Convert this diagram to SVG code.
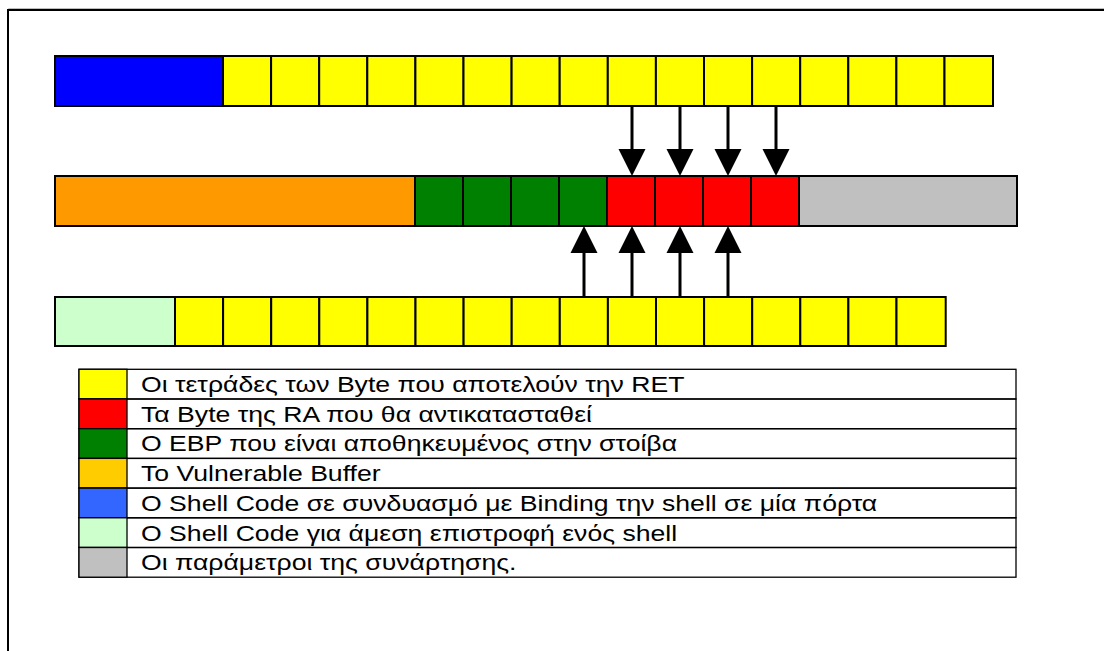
<svg xmlns="http://www.w3.org/2000/svg" width="1104" height="651" viewBox="0 0 1104 651">
  <style>
    .cell { stroke: #000; stroke-width: 2; }
    .yel { fill: #FFFF00; }
    .blu { fill: #0000FF; }
    .org { fill: #FF9900; }
    .grn { fill: #008000; }
    .red { fill: #FF0000; }
    .gry { fill: #C0C0C0; }
    .lgr { fill: #CCFFCC; }
    .lg-row { fill: none; stroke: #000; stroke-width: 1.3; }
    .lg-sw { stroke: #000; stroke-width: 1.3; }
    .lg-txt { font-family: "Liberation Sans", Arial, sans-serif; font-size: 22px; fill: #000; }
    .arrow { stroke: #000; stroke-width: 3; fill: none; marker-end: url(#head); }
  </style>
  <defs>
    <marker id="head" markerUnits="userSpaceOnUse" markerWidth="28" markerHeight="28" viewBox="0 -14 28 28" refX="0" refY="0" orient="auto">
      <path d="M0,-13.5 L27,0 L0,13.5 Z" fill="#000"/>
    </marker>
  </defs>

  <rect width="1104" height="651" fill="#fff"/>

  <!-- page frame, runs off the right and bottom edges -->
  <g id="frame">
    <path d="M8.5,1110 V8.5 H1110" fill="none" stroke="#bdbdbd" stroke-width="1"/>
    <path d="M8,1110 V10 H1110" fill="none" stroke="#000" stroke-width="2"/>
  </g>

  <!-- row 1: shell code with port binding + RET words -->
  <g id="row-top">
    <rect class="cell blu" x="55" y="56" width="168" height="50"/>
    <rect class="cell yel" x="223" y="56" width="48.1" height="50"/>
    <rect class="cell yel" x="271.1" y="56" width="48.1" height="50"/>
    <rect class="cell yel" x="319.2" y="56" width="48.1" height="50"/>
    <rect class="cell yel" x="367.3" y="56" width="48.1" height="50"/>
    <rect class="cell yel" x="415.4" y="56" width="48.1" height="50"/>
    <rect class="cell yel" x="463.5" y="56" width="48.1" height="50"/>
    <rect class="cell yel" x="511.6" y="56" width="48.1" height="50"/>
    <rect class="cell yel" x="559.7" y="56" width="48.1" height="50"/>
    <rect class="cell yel" x="607.8" y="56" width="48.1" height="50"/>
    <rect class="cell yel" x="655.9" y="56" width="48.1" height="50"/>
    <rect class="cell yel" x="704" y="56" width="48.1" height="50"/>
    <rect class="cell yel" x="752.1" y="56" width="48.1" height="50"/>
    <rect class="cell yel" x="800.2" y="56" width="48.1" height="50"/>
    <rect class="cell yel" x="848.3" y="56" width="48.1" height="50"/>
    <rect class="cell yel" x="896.4" y="56" width="48.1" height="50"/>
    <rect class="cell yel" x="944.5" y="56" width="48.5" height="50"/>
  </g>

  <!-- row 2: stack frame (buffer, saved EBP, RA, parameters) -->
  <g id="row-stack">
    <rect class="cell org" x="55" y="176" width="360" height="50"/>
    <rect class="cell grn" x="415" y="176" width="48" height="50"/>
    <rect class="cell grn" x="463" y="176" width="48" height="50"/>
    <rect class="cell grn" x="511" y="176" width="48" height="50"/>
    <rect class="cell grn" x="559" y="176" width="48" height="50"/>
    <rect class="cell red" x="607" y="176" width="48" height="50"/>
    <rect class="cell red" x="655" y="176" width="48" height="50"/>
    <rect class="cell red" x="703" y="176" width="48" height="50"/>
    <rect class="cell red" x="751" y="176" width="48" height="50"/>
    <rect class="cell gry" x="799" y="176" width="218" height="50"/>
  </g>

  <!-- row 3: direct shell code + RET words -->
  <g id="row-bottom">
    <rect class="cell lgr" x="55" y="297" width="120" height="49"/>
    <rect class="cell yel" x="175" y="297" width="48.1" height="49"/>
    <rect class="cell yel" x="223.1" y="297" width="48.1" height="49"/>
    <rect class="cell yel" x="271.2" y="297" width="48.1" height="49"/>
    <rect class="cell yel" x="319.3" y="297" width="48.1" height="49"/>
    <rect class="cell yel" x="367.4" y="297" width="48.1" height="49"/>
    <rect class="cell yel" x="415.5" y="297" width="48.1" height="49"/>
    <rect class="cell yel" x="463.6" y="297" width="48.1" height="49"/>
    <rect class="cell yel" x="511.7" y="297" width="48.1" height="49"/>
    <rect class="cell yel" x="559.8" y="297" width="48.1" height="49"/>
    <rect class="cell yel" x="607.9" y="297" width="48.1" height="49"/>
    <rect class="cell yel" x="656" y="297" width="48.1" height="49"/>
    <rect class="cell yel" x="704.1" y="297" width="48.1" height="49"/>
    <rect class="cell yel" x="752.2" y="297" width="48.1" height="49"/>
    <rect class="cell yel" x="800.3" y="297" width="48.1" height="49"/>
    <rect class="cell yel" x="848.4" y="297" width="48.1" height="49"/>
    <rect class="cell yel" x="896.5" y="297" width="49.2" height="49"/>
  </g>

  <!-- overwrite arrows -->
  <g id="connectors">
    <line class="arrow" x1="632" y1="105" x2="632" y2="149"/>
    <line class="arrow" x1="680" y1="105" x2="680" y2="149"/>
    <line class="arrow" x1="728" y1="105" x2="728" y2="149"/>
    <line class="arrow" x1="776" y1="105" x2="776" y2="149"/>
    <line class="arrow" x1="584" y1="297" x2="584" y2="253"/>
    <line class="arrow" x1="632" y1="297" x2="632" y2="253"/>
    <line class="arrow" x1="680" y1="297" x2="680" y2="253"/>
    <line class="arrow" x1="728" y1="297" x2="728" y2="253"/>
  </g>

  <!-- legend -->
  <g id="legend">
    <rect class="lg-row" x="79" y="369.3" width="937" height="29.7"/>
    <rect class="lg-sw yel" x="79" y="369.3" width="48" height="29.7"/>
    <rect class="lg-row" x="79" y="399" width="937" height="29.7"/>
    <rect class="lg-sw red" x="79" y="399" width="48" height="29.7"/>
    <rect class="lg-row" x="79" y="428.7" width="937" height="29.7"/>
    <rect class="lg-sw grn" x="79" y="428.7" width="48" height="29.7"/>
    <rect class="lg-row" x="79" y="458.4" width="937" height="29.7"/>
    <rect class="lg-sw" x="79" y="458.4" width="48" height="29.7" fill="#FFCC00"/>
    <rect class="lg-row" x="79" y="488.1" width="937" height="29.7"/>
    <rect class="lg-sw" x="79" y="488.1" width="48" height="29.7" fill="#3366FF"/>
    <rect class="lg-row" x="79" y="517.8" width="937" height="29.7"/>
    <rect class="lg-sw lgr" x="79" y="517.8" width="48" height="29.7"/>
    <rect class="lg-row" x="79" y="547.5" width="937" height="29.7"/>
    <rect class="lg-sw gry" x="79" y="547.5" width="48" height="29.7"/>

    <!-- legend captions use a horizontally widened face -->
    <g transform="translate(141 0) scale(1.21 1)">
      <text class="lg-txt" x="0" y="392.5">Οι τετράδες των Byte που αποτελούν την RET</text>
      <text class="lg-txt" x="0" y="422">Τα Byte της RA που θα αντικατασταθεί</text>
      <text class="lg-txt" x="0" y="451.5">Ο EBP που είναι αποθηκευμένος στην στοίβα</text>
      <text class="lg-txt" x="0" y="481.2">Το Vulnerable Buffer</text>
      <text class="lg-txt" x="0" y="510.9">Ο Shell Code σε συνδυασμό με Binding την shell σε μία πόρτα</text>
      <text class="lg-txt" x="0" y="540.6">Ο Shell Code για άμεση επιστροφή ενός shell</text>
      <text class="lg-txt" x="0" y="570.3">Οι παράμετροι της συνάρτησης.</text>
    </g>
  </g>
</svg>
